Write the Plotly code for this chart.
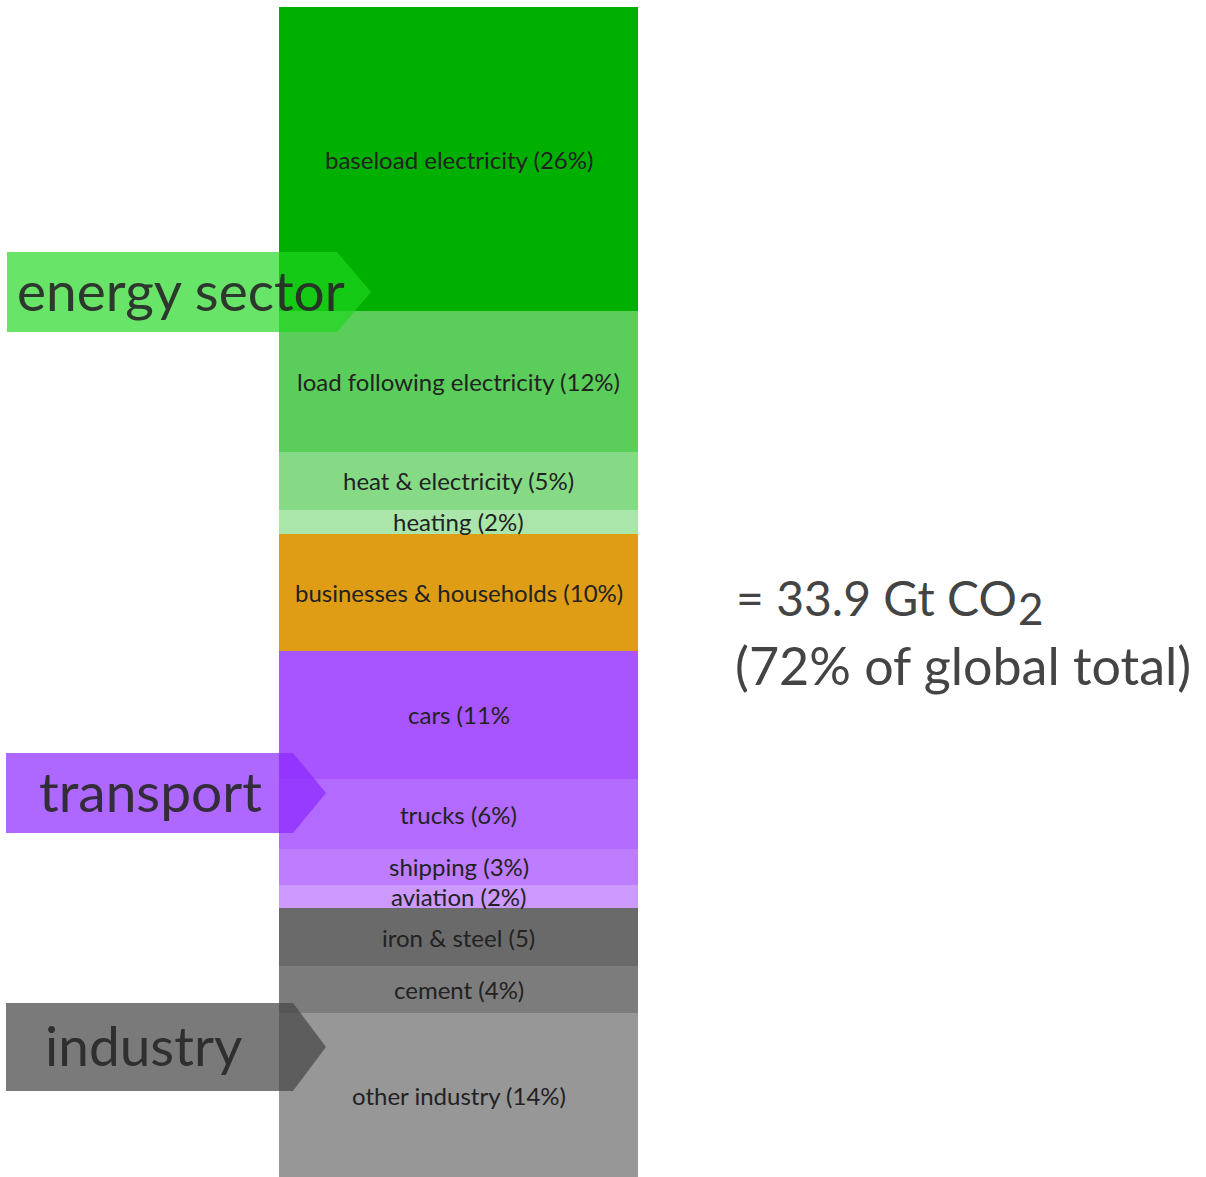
import numpy as np
import plotly.graph_objects as go

# Share of emissions by sub-sector (percent), top to bottom
labels = [
    "baseload electricity (26%)",
    "load following electricity (12%)",
    "heat & electricity (5%)",
    "heating (2%)",
    "businesses & households (10%)",
    "cars (11%",
    "trucks (6%)",
    "shipping (3%)",
    "aviation (2%)",
    "iron & steel (5)",
    "cement (4%)",
    "other industry (14%)",
]
shares = [26, 12, 5, 2, 10, 11, 6, 3, 2, 5, 4, 14]
colors = [
    "#00B000", "#5ACD5A", "#86DA86", "#AAE6AA",
    "#DE9D14",
    "#A855FF", "#B26AFF", "#BE7DFF", "#CC99FF",
    "#6A6A6A", "#7C7C7C", "#979797",
]

total_text = "= 33.9 Gt CO"
total_sub = "2"
share_text = "(72% of global total)"

W, H = 1206, 1177
FONT = "Lato"


def px(x):
    return x / W


def py(y):
    return 1 - y / H


fig = go.Figure()
bases = np.concatenate([[0], np.cumsum(shares)[:-1]])
for lab, val, base, col in zip(labels, shares, bases, colors):
    fig.add_trace(go.Bar(
        x=["emissions"], y=[val], base=[base],
        marker=dict(color=col, line=dict(width=0)),
        hoverinfo="skip", showlegend=False, name=lab,
    ))
    fig.add_annotation(
        x="emissions", y=base + val / 2, xref="x", yref="y",
        text=lab, showarrow=False,
        font=dict(family=FONT, size=24, color="#222222"),
    )

# Sector tags: arrow-shaped banners pointing into the bar
# (name, left, top, point start, tip, bottom, label centre, fill)
sectors = [
    ("energy sector", 7, 252, 337, 371, 332, 181, "rgba(30,214,30,0.67)"),
    ("transport", 6, 753, 293, 326, 833, 150, "rgba(140,40,255,0.70)"),
    ("industry", 6, 1003, 293, 326, 1091, 143, "rgba(70,70,70,0.72)"),
]
for name, x0, y0, xb, xt, y1, xc, fill in sectors:
    ym = (y0 + y1) / 2
    path = (f"M {px(x0)},{py(y0)} L {px(xb)},{py(y0)} L {px(xt)},{py(ym)} "
            f"L {px(xb)},{py(y1)} L {px(x0)},{py(y1)} Z")
    fig.add_shape(type="path", path=path, xref="paper", yref="paper",
                  fillcolor=fill, line=dict(width=0), layer="above")
    fig.add_annotation(
        x=px(xc), y=py(ym - 2), xref="paper", yref="paper",
        text=name, showarrow=False, xanchor="center", yanchor="middle",
        font=dict(family=FONT, size=55, color="rgba(40,40,40,0.92)"),
    )

# Total and share, with an enlarged lowered subscript on CO2
fig.add_annotation(
    x=px(734), y=py(597), xref="paper", yref="paper",
    text=total_text, showarrow=False, xanchor="left", yanchor="middle",
    font=dict(family=FONT, size=48, color="#444444"),
)
fig.add_annotation(
    x=px(1016), y=py(608), xref="paper", yref="paper",
    text=total_sub, showarrow=False, xanchor="left", yanchor="middle",
    font=dict(family=FONT, size=44, color="#444444"),
)
fig.add_annotation(
    x=px(733), y=py(665), xref="paper", yref="paper",
    text=share_text, showarrow=False, xanchor="left", yanchor="middle",
    font=dict(family=FONT, size=52, color="#444444"),
)

fig.update_layout(
    width=W, height=H,
    margin=dict(l=0, r=0, t=0, b=0),
    paper_bgcolor="white", plot_bgcolor="white",
    barmode="overlay", bargap=0,
    xaxis=dict(domain=[279 / W, 638 / W], visible=False, fixedrange=True),
    yaxis=dict(domain=[0, 1 - 7 / H], range=[100, 0], visible=False,
               fixedrange=True),
)

fig.write_html("out.html")
